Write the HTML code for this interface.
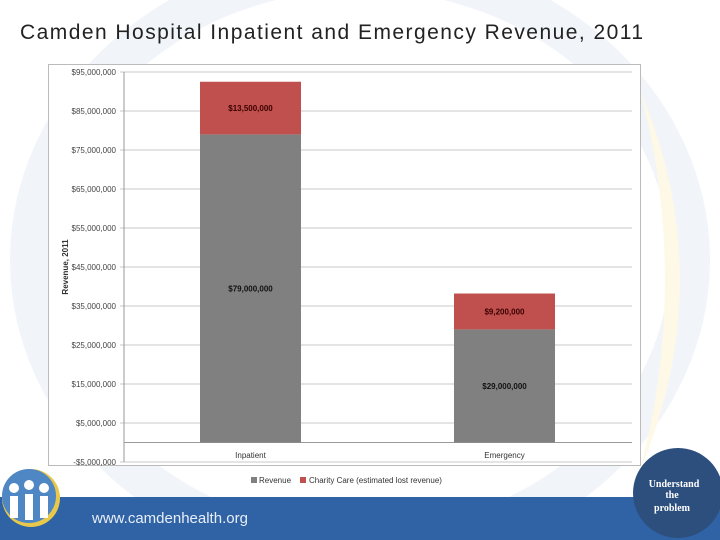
<!DOCTYPE html>
<html><head><meta charset="utf-8"><style>
body{margin:0;width:720px;height:540px;overflow:hidden;background:#fff;font-family:"Liberation Sans",sans-serif;position:relative}
</style></head><body>
<svg width="720" height="540" style="position:absolute;left:0;top:0">
  <ellipse cx="360" cy="260" rx="330" ry="290" fill="none" stroke="#f1f5fa" stroke-width="40"/>
  <path d="M640 90 Q720 280 640 470 Q690 280 640 90Z" fill="#fdf9e6"/>
  <text x="20" y="39" font-size="21" fill="#222" textLength="623" lengthAdjust="spacing" font-family="Liberation Sans, sans-serif">Camden Hospital Inpatient and Emergency Revenue, 2011</text>
  <rect x="0" y="497" width="720" height="43" fill="#2f63a6"/>
  <text x="92" y="523" font-size="15" fill="#e8eef8" font-family="Liberation Sans, sans-serif">www.camdenhealth.org</text>
  <g>
    <circle cx="31" cy="498" r="29" fill="#e8c84a"/>
    <circle cx="29" cy="496" r="27" fill="#4f86c4"/>
    <circle cx="14" cy="488" r="5" fill="#fff"/><circle cx="29" cy="485" r="5" fill="#fff"/><circle cx="44" cy="488" r="5" fill="#fff"/>
    <rect x="10" y="496" width="8" height="22" fill="#fff"/><rect x="25" y="494" width="8" height="26" fill="#fff"/><rect x="40" y="496" width="8" height="22" fill="#fff"/>
  </g>
  <circle cx="678" cy="493" r="45" fill="#2d4f7e"/>
  <text font-size="10" fill="#fff" font-weight="bold" text-anchor="middle" font-family="Liberation Serif, serif">
    <tspan x="674" y="487">Understand</tspan><tspan x="672" y="498">the</tspan><tspan x="672" y="511">problem</tspan></text>
  <rect x="48.5" y="64.5" width="592" height="401" fill="#fff" stroke="#bbb"/>
  <g id="chart"></g>
</svg>
<script>
const categories=["Inpatient","Emergency"];
const revenue=[79000000,29000000];
const charity=[13500000,9200000];
const revenueLabels=["$79,000,000","$29,000,000"];
const charityLabels=["$13,500,000","$9,200,000"];
const ticks=[95,85,75,65,55,45,35,25,15,5,-5];
const tickLabels=["$95,000,000","$85,000,000","$75,000,000","$65,000,000","$55,000,000","$45,000,000","$35,000,000","$25,000,000","$15,000,000","$5,000,000","-$5,000,000"];
const NS="http://www.w3.org/2000/svg";
const g=document.getElementById('chart');
const x0=124,x1=632;
function y(v){return 442.5-v/1e6*3.9;}
function xc(i){return 250.5+i*254;}
function mk(t,a,txt){const e=document.createElementNS(NS,t);for(const k in a)e.setAttribute(k,a[k]);if(txt!=null)e.textContent=txt;g.appendChild(e);return e;}
ticks.forEach((t,i)=>{
  const l=mk('line',{x1:x0-4,x2:x1,y1:y(t*1e6),y2:y(t*1e6),stroke:'#c8c8c8'});
  
  
  const tx=mk('text',{x:x0-8,y:y(t*1e6)+3,'font-size':8,fill:'#444','text-anchor':'end'},tickLabels[i]);
  
  
});
const ax=mk('line',{x1:x0,x2:x0,y1:y(95e6),y2:y(-5e6),stroke:'#999'});


const zl=mk('line',{x1:x0,x2:x1,y1:y(0),y2:y(0),stroke:'#999'});


const yt=mk('text',{x:0,y:0,'font-size':8,'font-weight':'bold',fill:'#333','text-anchor':'middle',transform:'translate(68,267) rotate(-90)'},'Revenue, 2011');


categories.forEach((c,i)=>{
  const cx=xc(i),w=101;
  const r=mk('rect',{x:cx-w/2,y:y(revenue[i]),width:w,height:y(0)-y(revenue[i]),fill:'#808080'});
  
  
  const top=revenue[i]+charity[i];
  const r2=mk('rect',{x:cx-w/2,y:y(top),width:w,height:y(revenue[i])-y(top),fill:'#c0504d'});
  
  
  const l1=mk('text',{x:cx,y:(y(0)+y(revenue[i]))/2+3,'font-size':8,'font-weight':'bold',fill:'#111','text-anchor':'middle'},revenueLabels[i]);
  
  
  const l2=mk('text',{x:cx,y:(y(revenue[i])+y(top))/2+3,'font-size':8,'font-weight':'bold',fill:'#3a0000','text-anchor':'middle'},charityLabels[i]);
  
  
  const xl=mk('text',{x:cx,y:458,'font-size':8,fill:'#333','text-anchor':'middle'},c);
  
  
});
const lg1=mk('rect',{x:251,y:477,width:6,height:6,fill:'#808080'});


const lt1=mk('text',{x:259,y:483,'font-size':8,fill:'#333'},'Revenue');


const lg2=mk('rect',{x:300,y:477,width:6,height:6,fill:'#c0504d'});


const lt2=mk('text',{x:309,y:483,'font-size':8,fill:'#333'},'Charity Care (estimated lost revenue)');


</script>
</body></html>
